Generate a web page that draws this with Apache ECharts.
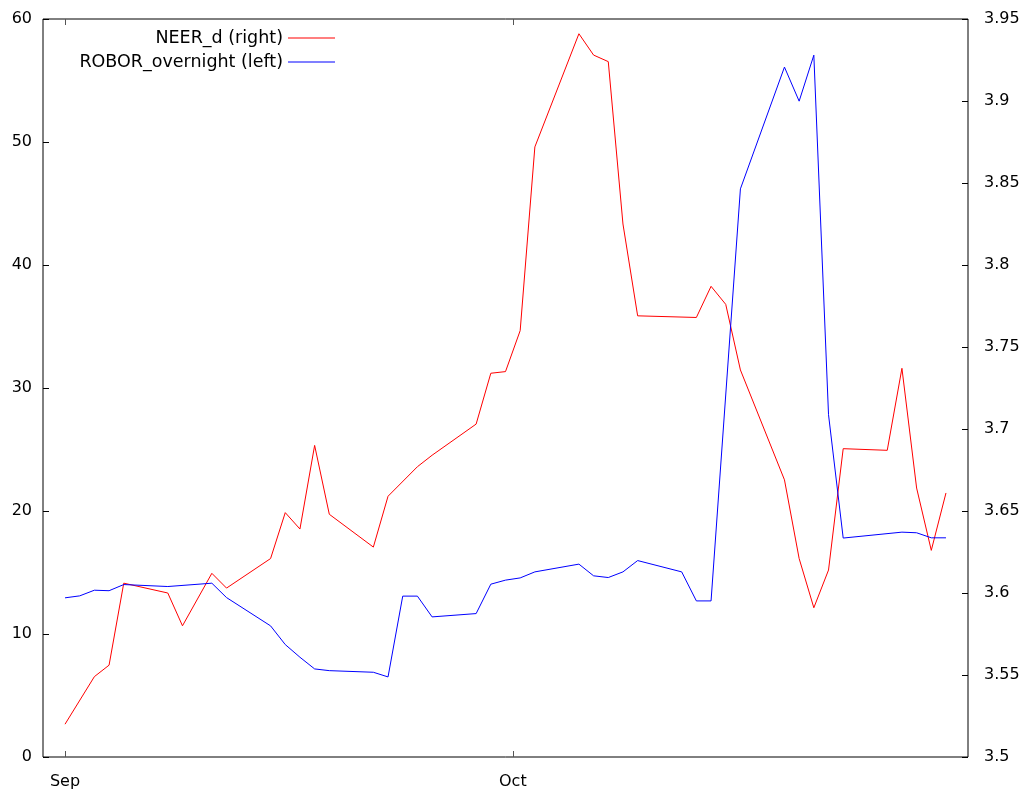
<!DOCTYPE html>
<html>
<head>
<meta charset="utf-8">
<script src="https://cdn.jsdelivr.net/npm/echarts@6/dist/echarts.min.js"></script>
<style>
html, body { margin: 0; padding: 0; background: #fff; }
#chart { width: 1028px; height: 794px; }
</style>
</head>
<body>
<div id="chart"></div>
<script>
// NEER_d, right axis
const neerDates = ['2008-09-01', '2008-09-03', '2008-09-04', '2008-09-05', '2008-09-08', '2008-09-09',
  '2008-09-11', '2008-09-12', '2008-09-15', '2008-09-16', '2008-09-17', '2008-09-18', '2008-09-19',
  '2008-09-22', '2008-09-23', '2008-09-25', '2008-09-26', '2008-09-29', '2008-09-30', '2008-10-01',
  '2008-10-02', '2008-10-03', '2008-10-06', '2008-10-07', '2008-10-08', '2008-10-09', '2008-10-10',
  '2008-10-14', '2008-10-15', '2008-10-16', '2008-10-17', '2008-10-20', '2008-10-21', '2008-10-22',
  '2008-10-23', '2008-10-24', '2008-10-27', '2008-10-28', '2008-10-29', '2008-10-30', '2008-10-31']
const neerValues = [3.520, 3.549, 3.556, 3.606, 3.600, 3.580,
  3.612, 3.603, 3.621, 3.649, 3.639, 3.690, 3.648,
  3.628, 3.659, 3.677, 3.684, 3.703, 3.734, 3.735,
  3.760, 3.872, 3.941, 3.928, 3.924, 3.825, 3.769,
  3.768, 3.787, 3.776, 3.736, 3.669, 3.621, 3.591,
  3.614, 3.688, 3.687, 3.737, 3.664, 3.626, 3.661]

// ROBOR_overnight, left axis
const roborDates = ['2008-09-01', '2008-09-02', '2008-09-03', '2008-09-04', '2008-09-05', '2008-09-08',
  '2008-09-11', '2008-09-12', '2008-09-15', '2008-09-16', '2008-09-17', '2008-09-18', '2008-09-19',
  '2008-09-22', '2008-09-23', '2008-09-24', '2008-09-25', '2008-09-26', '2008-09-29', '2008-09-30',
  '2008-10-01', '2008-10-02', '2008-10-03', '2008-10-06', '2008-10-07', '2008-10-08', '2008-10-09',
  '2008-10-10', '2008-10-13', '2008-10-14', '2008-10-15', '2008-10-17', '2008-10-20', '2008-10-21',
  '2008-10-22', '2008-10-23', '2008-10-24', '2008-10-28', '2008-10-29', '2008-10-30', '2008-10-31']
const roborValues = [12.94, 13.10, 13.56, 13.52, 14.02, 13.86,
  14.13, 12.96, 10.66, 9.14, 8.11, 7.16, 7.02,
  6.89, 6.51, 13.08, 13.08, 11.39, 11.66, 14.05,
  14.38, 14.56, 15.05, 15.68, 14.73, 14.59, 15.05,
  15.97, 15.05, 12.69, 12.69, 46.19, 56.09, 53.32,
  57.06, 27.83, 17.80, 18.28, 18.23, 17.82, 17.82]

// x ticks, in days after 1 Sep 2008 (gnuplot month step)
const xTickDays = [0, 30.5]
const xTickLabels = ['Sep', 'Oct']

const font = 'DejaVu Sans'
const base = Date.UTC(2008, 8, 1)
const toDay = s => (Date.parse(s + 'T00:00:00Z') - base) / 86400000

function xLabel(v) {
  const i = xTickDays.findIndex(t => Math.abs(t - v) < 0.01)
  return i >= 0 ? xTickLabels[i] : ''
}

const xCommon = {
  type: 'value',
  min: -1.5,
  max: 61.5,
  splitLine: { show: false },
  axisLine: { show: false, onZero: false },
  axisTick: { show: true, inside: true, length: 6, customValues: xTickDays, lineStyle: { color: '#555' } }
}

const legendCommon = {
  right: 693, align: 'right', icon: 'rect', itemWidth: 47, itemHeight: 1, itemGap: 0, padding: 0,
  textStyle: { fontFamily: font, fontSize: 17.5, color: '#000' }
}

const option = {
  animation: false,
  backgroundColor: '#fff',
  grid: { left: 43, top: 19, width: 925, height: 738, show: true, borderColor: '#000', borderWidth: 1 },
  legend: [
    Object.assign({ data: ['NEER_d (right)'], top: 29 }, legendCommon),
    Object.assign({ data: ['ROBOR_overnight (left)'], top: 53 }, legendCommon)
  ],
  xAxis: [
    Object.assign({}, xCommon, {
      position: 'bottom',
      axisLabel: { customValues: xTickDays, formatter: xLabel, margin: 17, fontFamily: font, fontSize: 16, color: '#000' }
    }),
    Object.assign({}, xCommon, {
      position: 'top',
      axisLabel: { show: false }
    })
  ],
  yAxis: [
    {
      type: 'value', position: 'left', min: 0, max: 60, interval: 10,
      splitLine: { show: false }, axisLine: { show: false, onZero: false },
      axisTick: { show: true, inside: true, length: 6, lineStyle: { color: '#000' } },
      axisLabel: { margin: 11, fontFamily: font, fontSize: 16, color: '#000' }
    },
    {
      type: 'value', position: 'right', min: 3.5, max: 3.95, interval: 0.05,
      splitLine: { show: false }, axisLine: { show: false, onZero: false },
      axisTick: { show: true, inside: true, length: 6, lineStyle: { color: '#000' } },
      axisLabel: { margin: 16, fontFamily: font, fontSize: 16, color: '#000', formatter: v => String(+v.toFixed(2)) }
    }
  ],
  series: [
    {
      name: 'NEER_d (right)', type: 'line', xAxisIndex: 0, yAxisIndex: 1,
      symbol: 'none', lineStyle: { color: '#ff0000', width: 1 }, itemStyle: { color: '#ff0000' },
      data: neerDates.map((d, i) => [toDay(d), neerValues[i]])
    },
    {
      name: 'ROBOR_overnight (left)', type: 'line', xAxisIndex: 0, yAxisIndex: 0,
      symbol: 'none', lineStyle: { color: '#0000ff', width: 1 }, itemStyle: { color: '#0000ff' },
      data: roborDates.map((d, i) => [toDay(d), roborValues[i]])
    }
  ]
}

const chart = echarts.init(document.getElementById('chart'))
chart.setOption(option)
</script>
</body>
</html>
